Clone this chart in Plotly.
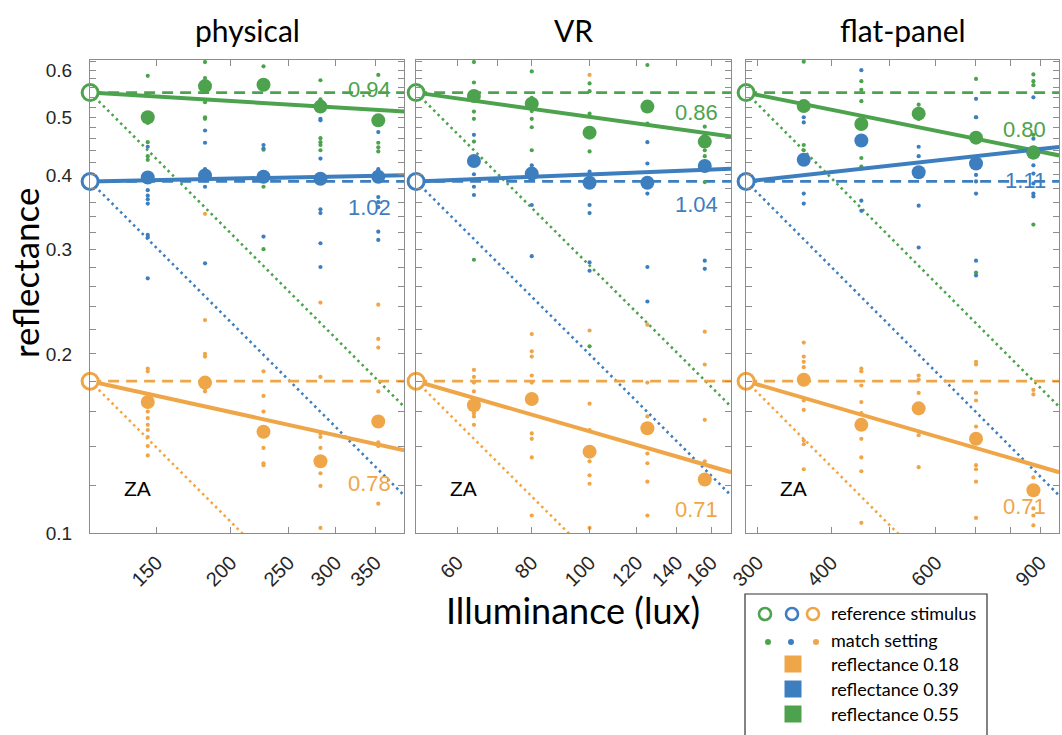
import numpy as np
import plotly.graph_objects as go

# ---------------------------------------------------------------- data
GREEN, BLUE, ORANGE = "#4DA34D", "#3D7EBF", "#EFA649"

panel_titles = ["physical", "VR", "flat-panel"]
reflectances = [0.18, 0.39, 0.55]          # reference stimulus reflectances
colors = [ORANGE, BLUE, GREEN]

# illuminance (lux); first entry is the reference illuminance
phys_lux = [116, 145, 181, 227, 283, 354]
vr_lux = [51.2, 64, 80, 100, 125, 156]
flat_lux = [287, 359, 449, 561, 701, 876]

# constancy index per reflectance (0.18, 0.39, 0.55)
phys_index = [0.78, 1.02, 0.94]
vr_index = [0.71, 1.04, 0.86]
flat_index = [0.71, 1.11, 0.80]

# mean match settings at the test illuminances
phys_mean_18 = [0.166, 0.179, 0.148, 0.132, 0.154]
phys_mean_39 = [0.396, 0.399, 0.397, 0.394, 0.397]
phys_mean_55 = [0.500, 0.564, 0.567, 0.521, 0.494]
vr_mean_18 = [0.164, 0.168, 0.137, 0.150, 0.123]
vr_mean_39 = [0.422, 0.402, 0.388, 0.388, 0.414]
vr_mean_55 = [0.543, 0.527, 0.471, 0.521, 0.455]
flat_mean_18 = [0.181, 0.152, 0.162, 0.144, 0.118]
flat_mean_39 = [0.424, 0.457, 0.404, 0.418, 0.436]
flat_mean_55 = [0.522, 0.487, 0.507, 0.462, 0.436]

# individual match settings, one list per test illuminance
phys_obs_18 = [[0.189, 0.187, 0.160, 0.156, 0.152, 0.149, 0.145, 0.140, 0.135],
               [0.344, 0.228, 0.200, 0.198, 0.175, 0.173],
               [0.187, 0.170, 0.160, 0.139, 0.131, 0.130],
               [0.244, 0.183, 0.147, 0.145, 0.139, 0.126, 0.120, 0.102],
               [0.242, 0.212, 0.205, 0.173, 0.142, 0.140, 0.112]]
phys_obs_39 = [[0.446, 0.377, 0.369, 0.364, 0.358, 0.317, 0.314, 0.268],
               [0.475, 0.453, 0.409, 0.382, 0.284],
               [0.449, 0.443, 0.315],
               [0.497, 0.494, 0.426, 0.390, 0.350, 0.345, 0.307, 0.280],
               [0.489, 0.472, 0.409, 0.367, 0.360, 0.353, 0.321, 0.311]]
phys_obs_55 = [[0.587, 0.489, 0.454, 0.430, 0.424],
               [0.619, 0.582, 0.530, 0.500, 0.497, 0.408],
               [0.609, 0.441, 0.382, 0.300],
               [0.577, 0.536, 0.461, 0.454, 0.449, 0.440],
               [0.589, 0.453, 0.445, 0.438]]
vr_obs_18 = [[0.188, 0.183, 0.179, 0.173, 0.159, 0.157, 0.152],
             [0.216, 0.202, 0.198, 0.184, 0.179, 0.147, 0.144, 0.134, 0.107],
             [0.589, 0.219, 0.165, 0.149, 0.132, 0.125, 0.121, 0.102],
             [0.224, 0.179, 0.157, 0.136, 0.131, 0.122, 0.107],
             [0.218, 0.192, 0.155, 0.132]]
vr_obs_39 = [[0.467, 0.401, 0.382, 0.370],
             [0.415, 0.356, 0.292],
             [0.405, 0.356, 0.345, 0.285, 0.276],
             [0.454, 0.418, 0.372, 0.280, 0.245],
             [0.287, 0.278]]
vr_obs_55 = [[0.619, 0.572, 0.511, 0.497, 0.455, 0.288],
             [0.597, 0.539, 0.512, 0.497, 0.481, 0.440],
             [0.570, 0.553, 0.507, 0.438, 0.396, 0.206],
             [0.612, 0.488],
             [0.482, 0.467, 0.440, 0.430, 0.389]]
flat_obs_18 = [[0.209, 0.198, 0.194, 0.190, 0.167, 0.161, 0.143, 0.141, 0.128],
               [0.189, 0.187, 0.177, 0.166, 0.159, 0.144, 0.134, 0.127, 0.104],
               [0.184, 0.181, 0.172, 0.159, 0.148, 0.146, 0.129],
               [0.194, 0.192, 0.172, 0.167, 0.151, 0.130, 0.128, 0.122, 0.106],
               [0.174, 0.171, 0.124, 0.110, 0.107, 0.103]]
flat_obs_39 = [[0.500, 0.490, 0.372, 0.358],
               [0.600, 0.410, 0.362, 0.348],
               [0.446, 0.430, 0.355, 0.302],
               [0.537, 0.500, 0.400, 0.390, 0.372, 0.287, 0.271],
               [0.540, 0.460, 0.415, 0.402, 0.387, 0.372, 0.368]]
flat_obs_55 = [[0.620, 0.449, 0.440],
               [0.575, 0.556, 0.532, 0.427, 0.413],
               [0.525, 0.497, 0.404],
               [0.580, 0.500, 0.424, 0.274],
               [0.590, 0.575, 0.566, 0.467, 0.330]]

# axis ticks
y_ticks = [0.1, 0.2, 0.3, 0.4, 0.5, 0.6]
y_minor = [round(0.10 + 0.02 * i, 2) for i in range(27)]
x_ticks = [[150, 200, 250, 300, 350], [60, 80, 100, 120, 140, 160], [300, 400, 600, 900]]
x_minor = [[], [70], [500, 700, 800]]

# ---------------------------------------------------------------- layout helpers
W, H = 1062, 735
X_SPAN = 0.528                      # decades shown on each illuminance axis
Y_RANGE = [-1.0, np.log10(0.624)]
x_px = [(90, 404), (416, 731), (746, 1059)]
y_px = (60, 533)                    # top, bottom of the plotting boxes


def px(x):
    return x / W


def py(y):
    return 1 - y / H


panels = [
    (phys_lux, phys_index, [phys_mean_18, phys_mean_39, phys_mean_55], [phys_obs_18, phys_obs_39, phys_obs_55]),
    (vr_lux, vr_index, [vr_mean_18, vr_mean_39, vr_mean_55], [vr_obs_18, vr_obs_39, vr_obs_55]),
    (flat_lux, flat_index, [flat_mean_18, flat_mean_39, flat_mean_55], [flat_obs_18, flat_obs_39, flat_obs_55]),
]

fig = go.Figure()
draw_order = [2, 1, 0]  # green, blue, orange

for p, (lux, index, means, obs) in enumerate(panels):
    xa = "x" if p == 0 else f"x{p + 1}"
    ya = "y" if p == 0 else f"y{p + 1}"
    e_ref = lux[0]
    e_test = lux[1:]
    xs = e_ref * 10 ** np.linspace(0, X_SPAN, 80)

    # luminance-match prediction (slope -1)
    for c in draw_order:
        r = reflectances[c]
        fig.add_trace(go.Scatter(x=xs, y=r * e_ref / xs, mode="lines", xaxis=xa, yaxis=ya,
                                 line=dict(color=colors[c], width=2.6, dash="2.5px,3.6px"),
                                 hoverinfo="skip", showlegend=False))
    # perfect constancy
    for c in draw_order:
        r = reflectances[c]
        fig.add_trace(go.Scatter(x=xs, y=np.full_like(xs, r), mode="lines", xaxis=xa, yaxis=ya,
                                 line=dict(color=colors[c], width=2.6, dash="11px,7px"),
                                 hoverinfo="skip", showlegend=False))
    # constancy-index fit
    for c in draw_order:
        r = reflectances[c]
        fig.add_trace(go.Scatter(x=xs, y=r * (xs / e_ref) ** (index[c] - 1), mode="lines",
                                 xaxis=xa, yaxis=ya, line=dict(color=colors[c], width=4),
                                 hoverinfo="skip", showlegend=False))
    # individual settings
    for c in draw_order:
        ox, oy = [], []
        for e, vals in zip(e_test, obs[c]):
            ox += [e] * len(vals)
            oy += vals
        fig.add_trace(go.Scatter(x=ox, y=oy, mode="markers", xaxis=xa, yaxis=ya,
                                 marker=dict(color=colors[c], size=4.2, line=dict(width=0)),
                                 showlegend=False))
    # means
    for c in [1, 2, 0]:
        fig.add_trace(go.Scatter(x=e_test, y=means[c], mode="markers", xaxis=xa, yaxis=ya,
                                 marker=dict(color=colors[c], size=14, line=dict(width=0)),
                                 showlegend=False))
    # reference stimuli
    for c in draw_order:
        fig.add_trace(go.Scatter(x=[e_ref], y=[reflectances[c]], mode="markers", xaxis=xa, yaxis=ya,
                                 cliponaxis=False,
                                 marker=dict(color="white", size=16, line=dict(color=colors[c], width=3)),
                                 showlegend=False))

    axis_common = dict(type="log", showgrid=False, zeroline=False, showline=True, automargin=False,
                       linecolor="#8c8c8c", linewidth=1, mirror="allticks", ticks="inside",
                       ticklen=6, tickcolor="#8c8c8c", tickwidth=1,
                       tickfont=dict(family="Liberation Sans", size=19, color="#262626"))
    x0, x1 = x_px[p]
    lo = np.log10(e_ref) - 2e-4
    fig.update_layout({
        ("xaxis" if p == 0 else f"xaxis{p + 1}"): dict(
            axis_common, domain=[px(x0), px(x1)], anchor=ya,
            range=[lo, lo + X_SPAN],
            tickmode="array", tickvals=x_ticks[p], ticktext=[str(v) for v in x_ticks[p]],
            tickangle=-45, ticklabelstandoff=9,
            tickfont=dict(family="Liberation Sans", size=20, color="#262626"),
            minor=dict(tickmode="array", tickvals=x_minor[p], ticks="inside", ticklen=6,
                       tickcolor="#8c8c8c")),
        ("yaxis" if p == 0 else f"yaxis{p + 1}"): dict(
            axis_common, domain=[py(y_px[1]), py(y_px[0])], anchor=xa, range=Y_RANGE,
            tickmode="array", tickvals=y_ticks, ticktext=[str(v) for v in y_ticks],
            showticklabels=(p == 0), ticklabelstandoff=13,
            minor=dict(tickmode="array", tickvals=y_minor, ticks="inside", ticklen=6,
                       tickcolor="#8c8c8c")),
    })

    dom = f"{xa} domain"
    fig.add_annotation(text=panel_titles[p], xref=dom, x=0.5, xanchor="center", yref="paper",
                       y=py(30), yanchor="middle",
                       showarrow=False, font=dict(family="Lato", size=30, color="black"))
    fig.add_annotation(text="ZA", xref=dom, x=0.102, xanchor="left", yref=ya, y=np.log10(0.1186),
                       yanchor="middle",
                       showarrow=False, font=dict(family="Liberation Sans", size=21, color="black"))

# constancy-index labels (value positions on the reflectance axis)
label_pos = [[0.121, 0.352, 0.557], [0.1097, 0.356, 0.510], [0.1106, 0.392, 0.476]]
for p, (lux, index, _, _) in enumerate(panels):
    xa = "x" if p == 0 else f"x{p + 1}"
    ya = "y" if p == 0 else f"y{p + 1}"
    for c in range(3):
        fig.add_annotation(text=f"{index[c]:.2f}", xref=f"{xa} domain", x=0.965, xanchor="right",
                           yref=ya, y=np.log10(label_pos[p][c]), yanchor="middle", showarrow=False,
                           font=dict(family="Liberation Sans", size=22, color=colors[c]))

fig.add_annotation(text="reflectance", xref="paper", x=px(2), xanchor="left",
                   yref="paper", y=py(273), yanchor="middle",
                   textangle=-90, showarrow=False, font=dict(family="Lato", size=35, color="black"))
fig.add_annotation(text="Illuminance (lux)", xref="paper", x=px(573), xanchor="center",
                   yref="paper", y=py(610), yanchor="middle",
                   showarrow=False, font=dict(family="Lato", size=36, color="black"))

# ---------------------------------------------------------------- legend box
shapes = [dict(type="rect", xref="paper", yref="paper", x0=px(745), x1=px(987), y0=py(745), y1=py(594),
               line=dict(color="#333333", width=1.2), fillcolor="white", layer="above")]


def circle(cx, cy, d, color, fill, lw):
    return dict(type="circle", xref="paper", yref="paper", x0=px(cx - d / 2), x1=px(cx + d / 2),
                y0=py(cy + d / 2), y1=py(cy - d / 2), line=dict(color=color, width=lw),
                fillcolor=fill, layer="above")


for cx, col in zip([765, 792, 813], [GREEN, BLUE, ORANGE]):
    shapes.append(circle(cx, 614, 12, col, "white", 2.6))
for cx, col in zip([768, 791, 816], [GREEN, BLUE, ORANGE]):
    shapes.append(circle(cx, 642, 6, col, col, 0))
for cy, col in zip([664, 689, 714], [ORANGE, BLUE, GREEN]):
    shapes.append(dict(type="rect", xref="paper", yref="paper", x0=px(784.5), x1=px(801.5),
                       y0=py(cy + 8.5), y1=py(cy - 8.5), line=dict(width=0), fillcolor=col,
                       layer="above"))

legend_text = ["reference stimulus", "match setting"] + [f"reflectance {r}" for r in reflectances]
for t, cy in zip(legend_text, [613, 640, 664, 689, 714]):
    fig.add_annotation(text=t, xref="paper", x=px(829), xanchor="left", yref="paper", y=py(cy),
                       yanchor="middle",
                       showarrow=False, font=dict(family="Lato", size=18, color="black"))

fig.update_layout(width=W, height=H, margin=dict(l=0, r=0, t=0, b=0, autoexpand=False),
                  paper_bgcolor="white", plot_bgcolor="white", shapes=shapes, showlegend=False)

fig.write_html("out.html")
